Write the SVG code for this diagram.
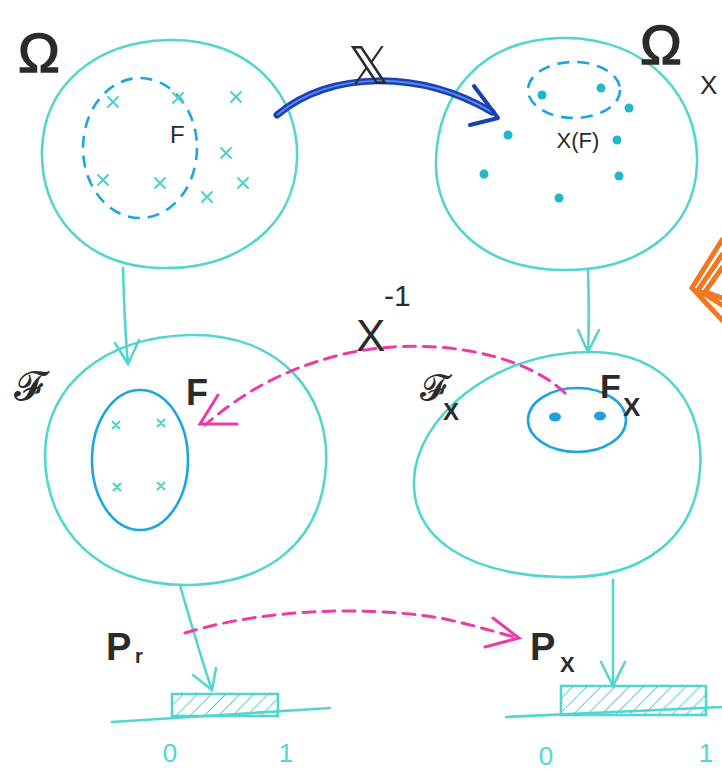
<svg xmlns="http://www.w3.org/2000/svg" width="722" height="772" viewBox="0 0 722 772">
<defs>
<style>
.set{fill:none;stroke:#52d6cf;stroke-width:2.6}
.sub{fill:none;stroke:#1ea5e0;stroke-width:2.6}
.dash{stroke-dasharray:12 8}
.cx{stroke:#4fd0cc;stroke-width:2;fill:none;stroke-linecap:round}
.dot{fill:#1fb8c8}
.lbl{font-family:"Liberation Sans","DejaVu Sans",sans-serif;fill:#2b2b2b}
.ax{font-family:"Liberation Sans","DejaVu Sans",sans-serif;fill:#52d6cf;font-size:26px}
.con{fill:none;stroke:#52d6cf;stroke-width:2.6;stroke-linecap:round}
.pink{fill:none;stroke:#ec3aa8;stroke-width:3;stroke-linecap:round}
</style>
<pattern id="hatch" patternUnits="userSpaceOnUse" width="10" height="10" patternTransform="rotate(45)">
<line x1="0" y1="0" x2="0" y2="10" stroke="#52d6cf" stroke-width="2"/>
</pattern>
<g id="x"><path class="cx" d="M-5,-5 L5,5 M5,-5 L-5,5"/></g>
<g id="xs"><path class="cx" d="M-3.5,-3.5 L3.5,3.5 M3.5,-3.5 L-3.5,3.5"/></g>
</defs>
<rect width="722" height="772" fill="#ffffff"/>

<g id="omega">
<path class="set" d="M168,40 C250,38 300,95 297,160 C294,225 240,270 160,268 C85,266 40,215 42,150 C44,85 95,42 168,40 Z"/>
<ellipse class="sub dash" cx="140" cy="148" rx="57" ry="70"/>
<use href="#x" x="113" y="102"/><use href="#x" x="178" y="98"/><use href="#x" x="236" y="97"/>
<use href="#x" x="226" y="153"/><use href="#x" x="103" y="180"/><use href="#x" x="160" y="183"/>
<use href="#x" x="207" y="197"/><use href="#x" x="243" y="183"/>
<text class="lbl" x="170" y="143" font-size="24">F</text>
<text class="lbl" x="18" y="72" font-size="56" stroke="#2b2b2b" stroke-width="1.5">Ω</text>
</g>

<g id="omegaX">
<path class="set" d="M560,38 C650,36 700,100 697,165 C694,230 640,272 560,270 C480,268 434,220 436,160 C438,95 480,40 560,38 Z"/>
<ellipse class="sub dash" cx="574" cy="90" rx="46" ry="28"/>
<circle class="dot" cx="542" cy="95" r="4.5"/><circle class="dot" cx="601" cy="88" r="4.5"/>
<circle class="dot" cx="629" cy="108" r="4.5"/><circle class="dot" cx="508" cy="135" r="4.5"/>
<circle class="dot" cx="617" cy="140" r="4.5"/><circle class="dot" cx="484" cy="174" r="4.5"/>
<circle class="dot" cx="619" cy="176" r="4.5"/><circle class="dot" cx="559" cy="198" r="4.5"/>
<text class="lbl" x="578" y="148" font-size="22" text-anchor="middle">X(F)</text>
<text class="lbl" x="640" y="64" font-size="56" stroke="#2b2b2b" stroke-width="1.5">Ω</text>
<text class="lbl" x="700" y="94" font-size="26">X</text>
</g>

<g id="sigmaF">
<path class="set" d="M190,335 C280,333 330,395 326,465 C322,540 270,585 185,585 C100,585 45,530 45,455 C45,385 105,337 190,335 Z"/>
<ellipse class="sub" cx="140" cy="460" rx="48" ry="70"/>
<use href="#xs" x="116" y="425"/><use href="#xs" x="161" y="423"/>
<use href="#xs" x="117" y="487"/><use href="#xs" x="161" y="486"/>
<text class="lbl" x="186" y="405" font-size="36" font-weight="bold">F</text>
<text class="lbl" x="14" y="400" font-size="40" font-family="DejaVu Serif,serif">𝓕</text>
</g>

<g id="sigmaFX">
<path class="set" d="M590,352 C670,352 705,410 700,470 C695,540 640,580 560,577 C470,575 412,540 414,480 C416,420 490,352 590,352 Z"/>
<ellipse class="sub" cx="577" cy="420" rx="49" ry="32"/>
<ellipse cx="555" cy="417" rx="6" ry="4.5" fill="#1e9fe0"/>
<ellipse cx="600" cy="416" rx="6" ry="4.5" fill="#1e9fe0"/>
<text class="lbl" x="600" y="398" font-size="34" font-weight="bold">F</text>
<text class="lbl" x="623" y="416" font-size="26" font-weight="bold">X</text>
<text class="lbl" x="420" y="400" font-size="36" font-family="DejaVu Serif,serif">𝓕</text>
<text class="lbl" x="443" y="420" font-size="24" font-weight="bold">X</text>
</g>

<g id="barLeft">
<line class="con" x1="112" y1="722" x2="330" y2="708"/>
<rect x="172" y="694" width="106" height="22" fill="url(#hatch)" stroke="#52d6cf" stroke-width="2.6"/>
<text class="ax" x="170" y="762" text-anchor="middle">0</text>
<text class="ax" x="286" y="762" text-anchor="middle">1</text>
<text class="lbl" x="106" y="660" font-size="38" font-weight="bold">P</text>
<text class="lbl" x="135" y="663" font-size="20" font-weight="bold">r</text>
</g>

<g id="barRight">
<line class="con" x1="506" y1="717" x2="722" y2="707"/>
<rect x="561" y="686" width="145" height="29" fill="url(#hatch)" stroke="#52d6cf" stroke-width="2.6"/>
<text class="ax" x="546" y="765" text-anchor="middle">0</text>
<text class="ax" x="706" y="762" text-anchor="middle">1</text>
<text class="lbl" x="530" y="660" font-size="38" font-weight="bold">P</text>
<text class="lbl" x="560" y="672" font-size="22" font-weight="bold">X</text>
</g>

<g id="connectors">
<path class="con" d="M123,268 C124,300 125,335 128,364"/>
<path class="con" d="M115,343 L128,364 L139,340"/>
<path class="con" d="M588,270 C589,300 589,330 588,352"/>
<path class="con" d="M578,330 L588,352 L599,330"/>
<path class="con" d="M180,585 C190,620 200,655 212,690"/>
<path class="con" d="M193,675 L212,690 L216,668"/>
<path class="con" d="M613,580 L613,686"/>
<path class="con" d="M601,662 L613,686 L625,662"/>
<path d="M277,115 C330,70 420,70 492,112" fill="none" stroke="#1840b8" stroke-width="7" stroke-linecap="round"/>
<path d="M277,115 C330,70 420,70 492,112" fill="none" stroke="#5a8ae0" stroke-width="2"/>
<path d="M474,86 L498,118 L470,125" fill="none" stroke="#1840b8" stroke-width="4" stroke-linejoin="round" stroke-linecap="round"/>
<path class="pink dash" d="M565,393 C520,350 420,335 340,355 C280,370 240,395 205,425"/>
<path class="pink" d="M218,395 L200,424 L237,424"/>
<path class="pink dash" d="M185,633 C260,610 360,605 440,618 C470,624 495,632 518,638"/>
<path class="pink" d="M493,618 L519,638 L485,647"/>
<text class="lbl" x="348" y="84" font-size="52" font-family="DejaVu Sans,sans-serif">𝕏</text>
<text class="lbl" x="356" y="351" font-size="44">X</text>
<text class="lbl" x="384" y="306" font-size="30">-1</text>
</g>

<g id="orange">
<path d="M722,240 L692,288 L722,320 M722,255 L698,290 L722,305 M722,268 L705,292 L722,298" fill="none" stroke="#f07820" stroke-width="5" stroke-linecap="round"/>
</g>
</svg>
